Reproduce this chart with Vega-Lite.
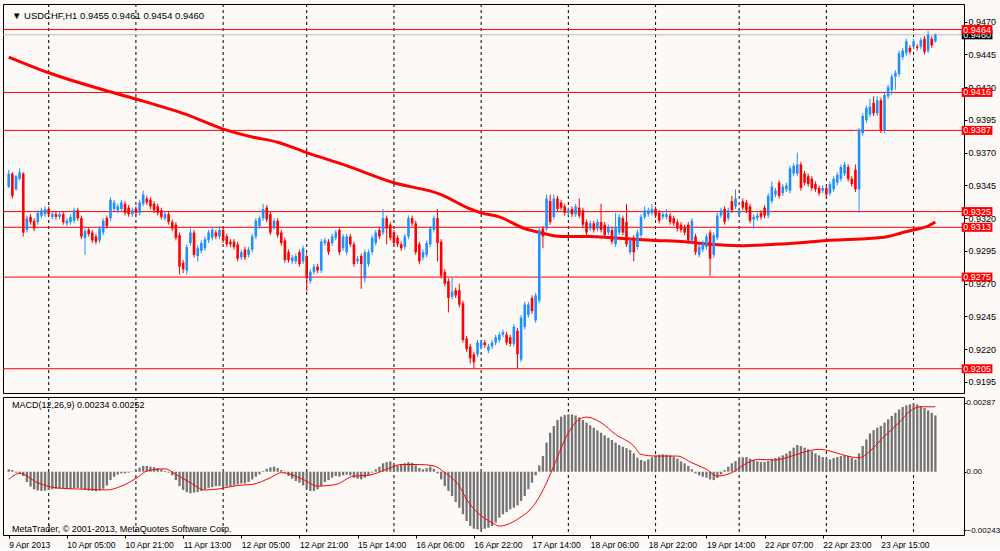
{
"$schema":"https://vega.github.io/schema/vega-lite/v6.json",
"background":"#FCF9F7",
"padding":{"left":2,"top":3,"right":0,"bottom":0},
"spacing":4,
"bounds":"flush",
"config":{
 "font":"Liberation Sans",
 "view":{"stroke":"#000000","strokeWidth":1,"fill":"#FCF9F7"},
 "axis":{"labelFont":"Liberation Sans","labelFontSize":9,"labelColor":"#000000","domain":false,"grid":false,"tickColor":"#000000","tickSize":3}
},
"datasets":{
"seps":[{"i":11},{"i":35},{"i":59},{"i":82},{"i":106},{"i":130},{"i":154},{"i":178},{"i":201},{"i":225},{"i":249}],
"levels":[{"p":0.9464},{"p":0.9416},{"p":0.9387},{"p":0.9325},{"p":0.9313},{"p":0.9275},{"p":0.9205}],
"bid":[{"p":0.946}],
"hdr":[{"t":"▼ USDCHF,H1  0.9455 0.9461 0.9454 0.9460"}],
"mhdr":[{"t":"MACD(12,26,9) 0.00234 0.00252","y":0.00277},{"t":"MetaTrader, © 2001-2013, MetaQuotes Software Corp.","y":-0.00237}],
"ma":[{"i":0,"p":0.9443},{"i":11,"p":0.9431},{"i":26,"p":0.9418},{"i":35,"p":0.9411},{"i":49,"p":0.9399},{"i":59,"p":0.9388},{"i":67,"p":0.9382},{"i":74,"p":0.9378},{"i":82,"p":0.937},{"i":92,"p":0.9361},{"i":106,"p":0.9347},{"i":119,"p":0.9338},{"i":127,"p":0.9327},{"i":130,"p":0.9324},{"i":135,"p":0.9321},{"i":142,"p":0.9312},{"i":146,"p":0.9309},{"i":152,"p":0.9306},{"i":160,"p":0.9306},{"i":166,"p":0.9305},{"i":178,"p":0.9303},{"i":186,"p":0.9302},{"i":193,"p":0.93},{"i":201,"p":0.9299},{"i":211,"p":0.93},{"i":217,"p":0.9301},{"i":225,"p":0.9303},{"i":234,"p":0.9304},{"i":242,"p":0.9306},{"i":246,"p":0.9309},{"i":249,"p":0.9311},{"i":253,"p":0.9314},{"i":255,"p":0.9317}],
"signal":[{"i":0,"s":-0.00032},{"i":3,"s":-0.00007},{"i":8,"s":-0.00046},{"i":13,"s":-0.00067},{"i":17,"s":-0.00071},{"i":22,"s":-0.00073},{"i":27,"s":-0.00076},{"i":31,"s":-0.0006},{"i":36,"s":-0.00018},{"i":38,"s":0.00003},{"i":43,"s":0.00012},{"i":46,"s":-0.00011},{"i":50,"s":-0.00046},{"i":54,"s":-0.00076},{"i":58,"s":-0.00071},{"i":63,"s":-0.00057},{"i":67,"s":-0.00053},{"i":72,"s":-0.00025},{"i":75,"s":-0.00004},{"i":81,"s":-0.00032},{"i":85,"s":-0.0006},{"i":90,"s":-0.00053},{"i":95,"s":-0.00018},{"i":99,"s":-0.00015},{"i":104,"s":0.0001},{"i":108,"s":0.0003},{"i":113,"s":0.0003},{"i":117,"s":0.00024},{"i":120,"s":-0.00004},{"i":124,"s":-0.0006},{"i":126,"s":-0.00115},{"i":129,"s":-0.0017},{"i":133,"s":-0.00212},{"i":135,"s":-0.00226},{"i":140,"s":-0.00198},{"i":145,"s":-0.00129},{"i":148,"s":-0.00046},{"i":150,"s":0.00024},{"i":154,"s":0.00162},{"i":157,"s":0.00218},{"i":159,"s":0.00227},{"i":163,"s":0.00204},{"i":167,"s":0.00155},{"i":172,"s":0.00107},{"i":174,"s":0.00072},{"i":178,"s":0.00065},{"i":184,"s":0.00065},{"i":188,"s":0.00037},{"i":192,"s":0.0001},{"i":195,"s":-0.00018},{"i":199,"s":-0.00004},{"i":203,"s":0.00035},{"i":206,"s":0.00051},{"i":211,"s":0.00049},{"i":214,"s":0.00058},{"i":219,"s":0.00082},{"i":223,"s":0.00093},{"i":226,"s":0.00086},{"i":230,"s":0.00068},{"i":234,"s":0.00058},{"i":237,"s":0.00086},{"i":241,"s":0.00148},{"i":245,"s":0.00204},{"i":248,"s":0.00252},{"i":251,"s":0.0027},{"i":255,"s":0.0027}],
"macd":[{"i":0,"m":0.0001},{"i":1,"m":0.00007},{"i":2,"m":-0.00004},{"i":3,"m":-0.00008},{"i":4,"m":-0.00018},{"i":5,"m":-0.00043},{"i":6,"m":-0.00062},{"i":7,"m":-0.00073},{"i":8,"m":-0.00078},{"i":9,"m":-0.0008},{"i":10,"m":-0.00079},{"i":11,"m":-0.00076},{"i":12,"m":-0.00073},{"i":13,"m":-0.00071},{"i":14,"m":-0.00069},{"i":15,"m":-0.00069},{"i":16,"m":-0.00071},{"i":17,"m":-0.00071},{"i":18,"m":-0.00068},{"i":19,"m":-0.00068},{"i":20,"m":-0.00071},{"i":21,"m":-0.00076},{"i":22,"m":-0.00079},{"i":23,"m":-0.0008},{"i":24,"m":-0.00082},{"i":25,"m":-0.00078},{"i":26,"m":-0.00071},{"i":27,"m":-0.00057},{"i":28,"m":-0.00035},{"i":29,"m":-0.00021},{"i":30,"m":-0.00012},{"i":31,"m":-0.00007},{"i":32,"m":-0.00007},{"i":33,"m":-0.00004},{"i":34,"m":-0.00001},{"i":35,"m":0.00007},{"i":36,"m":0.00017},{"i":37,"m":0.00024},{"i":38,"m":0.00024},{"i":39,"m":0.00021},{"i":40,"m":0.00019},{"i":41,"m":0.00015},{"i":42,"m":0.0001},{"i":43,"m":0.00003},{"i":44,"m":-0.00004},{"i":45,"m":-0.00015},{"i":46,"m":-0.00035},{"i":47,"m":-0.0006},{"i":48,"m":-0.00076},{"i":49,"m":-0.00085},{"i":50,"m":-0.0009},{"i":51,"m":-0.00087},{"i":52,"m":-0.00085},{"i":53,"m":-0.0008},{"i":54,"m":-0.00073},{"i":55,"m":-0.00067},{"i":56,"m":-0.00064},{"i":57,"m":-0.0006},{"i":58,"m":-0.0006},{"i":59,"m":-0.00064},{"i":60,"m":-0.00062},{"i":61,"m":-0.0006},{"i":62,"m":-0.00057},{"i":63,"m":-0.00053},{"i":64,"m":-0.00049},{"i":65,"m":-0.00049},{"i":66,"m":-0.00043},{"i":67,"m":-0.00032},{"i":68,"m":-0.00021},{"i":69,"m":-0.00011},{"i":70,"m":0.00003},{"i":71,"m":0.00012},{"i":72,"m":0.00018},{"i":73,"m":0.00021},{"i":74,"m":0.00015},{"i":75,"m":0.00007},{"i":76,"m":-0.00004},{"i":77,"m":-0.00018},{"i":78,"m":-0.00029},{"i":79,"m":-0.00039},{"i":80,"m":-0.00046},{"i":81,"m":-0.00057},{"i":82,"m":-0.00071},{"i":83,"m":-0.0008},{"i":84,"m":-0.0008},{"i":85,"m":-0.00073},{"i":86,"m":-0.0006},{"i":87,"m":-0.00043},{"i":88,"m":-0.00035},{"i":89,"m":-0.00025},{"i":90,"m":-0.00018},{"i":91,"m":-0.00021},{"i":92,"m":-0.00015},{"i":93,"m":-0.00012},{"i":94,"m":-0.00015},{"i":95,"m":-0.00025},{"i":96,"m":-0.00029},{"i":97,"m":-0.00032},{"i":98,"m":-0.00025},{"i":99,"m":-0.00015},{"i":100,"m":-0.00004},{"i":101,"m":0.0001},{"i":102,"m":0.00021},{"i":103,"m":0.00035},{"i":104,"m":0.0004},{"i":105,"m":0.00043},{"i":106,"m":0.00035},{"i":107,"m":0.00026},{"i":108,"m":0.00031},{"i":109,"m":0.00035},{"i":110,"m":0.0004},{"i":111,"m":0.00037},{"i":112,"m":0.00026},{"i":113,"m":0.00015},{"i":114,"m":0.0001},{"i":115,"m":0.00015},{"i":116,"m":0.00021},{"i":117,"m":0.00012},{"i":118,"m":-0.00007},{"i":119,"m":-0.00032},{"i":120,"m":-0.0006},{"i":121,"m":-0.0008},{"i":122,"m":-0.00101},{"i":123,"m":-0.00126},{"i":124,"m":-0.0015},{"i":125,"m":-0.00177},{"i":126,"m":-0.00205},{"i":127,"m":-0.00226},{"i":128,"m":-0.00237},{"i":129,"m":-0.0024},{"i":130,"m":-0.0024},{"i":131,"m":-0.00237},{"i":132,"m":-0.00233},{"i":133,"m":-0.00226},{"i":134,"m":-0.00212},{"i":135,"m":-0.00191},{"i":136,"m":-0.00177},{"i":137,"m":-0.00168},{"i":138,"m":-0.00157},{"i":139,"m":-0.0015},{"i":140,"m":-0.0014},{"i":141,"m":-0.00122},{"i":142,"m":-0.00101},{"i":143,"m":-0.00073},{"i":144,"m":-0.00046},{"i":145,"m":-0.00015},{"i":146,"m":0.00026},{"i":147,"m":0.00065},{"i":148,"m":0.00121},{"i":149,"m":0.00162},{"i":150,"m":0.0019},{"i":151,"m":0.00215},{"i":152,"m":0.00229},{"i":153,"m":0.00236},{"i":154,"m":0.00238},{"i":155,"m":0.00238},{"i":156,"m":0.00234},{"i":157,"m":0.00226},{"i":158,"m":0.00215},{"i":159,"m":0.00204},{"i":160,"m":0.00193},{"i":161,"m":0.00183},{"i":162,"m":0.00172},{"i":163,"m":0.00162},{"i":164,"m":0.00151},{"i":165,"m":0.00141},{"i":166,"m":0.00132},{"i":167,"m":0.00121},{"i":168,"m":0.00111},{"i":169,"m":0.00104},{"i":170,"m":0.00098},{"i":171,"m":0.0009},{"i":172,"m":0.00076},{"i":173,"m":0.00058},{"i":174,"m":0.00049},{"i":175,"m":0.00044},{"i":176,"m":0.00051},{"i":177,"m":0.0006},{"i":178,"m":0.00068},{"i":179,"m":0.00071},{"i":180,"m":0.00072},{"i":181,"m":0.00071},{"i":182,"m":0.00068},{"i":183,"m":0.00062},{"i":184,"m":0.00054},{"i":185,"m":0.00043},{"i":186,"m":0.00035},{"i":187,"m":0.00024},{"i":188,"m":0.0001},{"i":189,"m":-0.00007},{"i":190,"m":-0.00015},{"i":191,"m":-0.00021},{"i":192,"m":-0.00025},{"i":193,"m":-0.00032},{"i":194,"m":-0.00035},{"i":195,"m":-0.00026},{"i":196,"m":-0.00011},{"i":197,"m":0.00007},{"i":198,"m":0.00021},{"i":199,"m":0.00035},{"i":200,"m":0.00044},{"i":201,"m":0.00054},{"i":202,"m":0.0006},{"i":203,"m":0.00061},{"i":204,"m":0.00054},{"i":205,"m":0.00049},{"i":206,"m":0.00043},{"i":207,"m":0.0004},{"i":208,"m":0.0004},{"i":209,"m":0.00044},{"i":210,"m":0.00051},{"i":211,"m":0.00057},{"i":212,"m":0.00062},{"i":213,"m":0.00068},{"i":214,"m":0.00076},{"i":215,"m":0.00086},{"i":216,"m":0.001},{"i":217,"m":0.00111},{"i":218,"m":0.00107},{"i":219,"m":0.001},{"i":220,"m":0.00093},{"i":221,"m":0.00085},{"i":222,"m":0.00076},{"i":223,"m":0.00068},{"i":224,"m":0.00061},{"i":225,"m":0.00055},{"i":226,"m":0.00051},{"i":227,"m":0.00057},{"i":228,"m":0.00061},{"i":229,"m":0.00065},{"i":230,"m":0.00068},{"i":231,"m":0.00065},{"i":232,"m":0.00058},{"i":233,"m":0.00051},{"i":234,"m":0.00076},{"i":235,"m":0.00107},{"i":236,"m":0.00134},{"i":237,"m":0.00159},{"i":238,"m":0.00173},{"i":239,"m":0.00183},{"i":240,"m":0.0019},{"i":241,"m":0.00204},{"i":242,"m":0.00218},{"i":243,"m":0.00232},{"i":244,"m":0.00245},{"i":245,"m":0.00259},{"i":246,"m":0.00269},{"i":247,"m":0.00276},{"i":248,"m":0.0028},{"i":249,"m":0.00283},{"i":250,"m":0.0028},{"i":251,"m":0.00273},{"i":252,"m":0.00265},{"i":253,"m":0.00255},{"i":254,"m":0.00245},{"i":255,"m":0.00234}],
"candles":[
{"i":0,"o":0.9344,"h":0.9357,"l":0.9343,"c":0.9354},{"i":1,"o":0.9354,"h":0.9355,"l":0.9335,"c":0.9337},{"i":2,"o":0.9342,"h":0.9353,"l":0.9341,"c":0.9352},{"i":3,"o":0.935,"h":0.9358,"l":0.9349,"c":0.9355},{"i":4,"o":0.9354,"h":0.9355,"l":0.9306,"c":0.9309},{"i":5,"o":0.9311,"h":0.9322,"l":0.9309,"c":0.932},{"i":6,"o":0.9321,"h":0.9323,"l":0.9315,"c":0.9317},{"i":7,"o":0.9318,"h":0.932,"l":0.931,"c":0.9312},{"i":8,"o":0.9317,"h":0.9326,"l":0.9315,"c":0.9324},{"i":9,"o":0.9322,"h":0.9328,"l":0.932,"c":0.9326},
{"i":10,"o":0.9323,"h":0.9329,"l":0.9321,"c":0.9327},{"i":11,"o":0.9327,"h":0.9329,"l":0.9321,"c":0.9323},{"i":12,"o":0.9321,"h":0.9325,"l":0.9319,"c":0.9323},{"i":13,"o":0.9323,"h":0.9325,"l":0.9319,"c":0.9321},{"i":14,"o":0.9321,"h":0.9325,"l":0.9319,"c":0.9323},{"i":15,"o":0.9323,"h":0.9325,"l":0.9315,"c":0.9317},{"i":16,"o":0.9316,"h":0.932,"l":0.9314,"c":0.9318},{"i":17,"o":0.9317,"h":0.9323,"l":0.9315,"c":0.9321},{"i":18,"o":0.9318,"h":0.9328,"l":0.9316,"c":0.9326},{"i":19,"o":0.9326,"h":0.9328,"l":0.9318,"c":0.932},
{"i":20,"o":0.932,"h":0.9322,"l":0.9304,"c":0.9306},{"i":21,"o":0.9305,"h":0.9312,"l":0.9292,"c":0.931},{"i":22,"o":0.9311,"h":0.9313,"l":0.9306,"c":0.9308},{"i":23,"o":0.9309,"h":0.9311,"l":0.9301,"c":0.9303},{"i":24,"o":0.9306,"h":0.9308,"l":0.93,"c":0.9302},{"i":25,"o":0.9303,"h":0.9314,"l":0.9301,"c":0.9312},{"i":26,"o":0.9309,"h":0.932,"l":0.9307,"c":0.9318},{"i":27,"o":0.932,"h":0.9322,"l":0.9312,"c":0.9314},{"i":28,"o":0.932,"h":0.9336,"l":0.9318,"c":0.9334},{"i":29,"o":0.9327,"h":0.9334,"l":0.9325,"c":0.9332},
{"i":30,"o":0.9326,"h":0.9331,"l":0.9324,"c":0.9329},{"i":31,"o":0.9327,"h":0.9334,"l":0.9325,"c":0.9332},{"i":32,"o":0.9331,"h":0.9333,"l":0.9322,"c":0.9324},{"i":33,"o":0.9328,"h":0.933,"l":0.9321,"c":0.9323},{"i":34,"o":0.9323,"h":0.9328,"l":0.9321,"c":0.9326},{"i":35,"o":0.9327,"h":0.9329,"l":0.9322,"c":0.9324},{"i":36,"o":0.9324,"h":0.9334,"l":0.9322,"c":0.9332},{"i":37,"o":0.9331,"h":0.9341,"l":0.9329,"c":0.9338},{"i":38,"o":0.9335,"h":0.9337,"l":0.933,"c":0.9332},{"i":39,"o":0.9334,"h":0.9336,"l":0.9327,"c":0.9329},
{"i":40,"o":0.9331,"h":0.9333,"l":0.9324,"c":0.9326},{"i":41,"o":0.9329,"h":0.9331,"l":0.9322,"c":0.9324},{"i":42,"o":0.9326,"h":0.9328,"l":0.9319,"c":0.9321},{"i":43,"o":0.932,"h":0.9325,"l":0.9318,"c":0.9323},{"i":44,"o":0.9323,"h":0.9325,"l":0.9315,"c":0.9317},{"i":45,"o":0.9317,"h":0.9319,"l":0.931,"c":0.9312},{"i":46,"o":0.9315,"h":0.9317,"l":0.9303,"c":0.9305},{"i":47,"o":0.9307,"h":0.9309,"l":0.9277,"c":0.9283},{"i":48,"o":0.9286,"h":0.9288,"l":0.9278,"c":0.9281},{"i":49,"o":0.928,"h":0.93,"l":0.9277,"c":0.9298},
{"i":50,"o":0.9301,"h":0.9312,"l":0.9299,"c":0.9309},{"i":51,"o":0.9309,"h":0.9311,"l":0.929,"c":0.9292},{"i":52,"o":0.9291,"h":0.9299,"l":0.9287,"c":0.9297},{"i":53,"o":0.9295,"h":0.9303,"l":0.9293,"c":0.9301},{"i":54,"o":0.9297,"h":0.9306,"l":0.9295,"c":0.9304},{"i":55,"o":0.9303,"h":0.9311,"l":0.9301,"c":0.9309},{"i":56,"o":0.9305,"h":0.9313,"l":0.9303,"c":0.9311},{"i":57,"o":0.9309,"h":0.9311,"l":0.9304,"c":0.9306},{"i":58,"o":0.9306,"h":0.9314,"l":0.9304,"c":0.9311},{"i":59,"o":0.9311,"h":0.9313,"l":0.9301,"c":0.9303},
{"i":60,"o":0.9306,"h":0.9308,"l":0.9298,"c":0.93},{"i":61,"o":0.9302,"h":0.9304,"l":0.9298,"c":0.93},{"i":62,"o":0.9302,"h":0.9304,"l":0.9296,"c":0.9298},{"i":63,"o":0.93,"h":0.9302,"l":0.9287,"c":0.9289},{"i":64,"o":0.929,"h":0.9296,"l":0.9288,"c":0.9294},{"i":65,"o":0.9296,"h":0.9298,"l":0.9288,"c":0.929},{"i":66,"o":0.9292,"h":0.9298,"l":0.929,"c":0.9296},{"i":67,"o":0.9296,"h":0.9308,"l":0.9294,"c":0.9306},{"i":68,"o":0.9306,"h":0.932,"l":0.9304,"c":0.9318},{"i":69,"o":0.9314,"h":0.9322,"l":0.9312,"c":0.932},
{"i":70,"o":0.932,"h":0.9331,"l":0.9318,"c":0.9327},{"i":71,"o":0.9328,"h":0.933,"l":0.9317,"c":0.9319},{"i":72,"o":0.9323,"h":0.9325,"l":0.9307,"c":0.9309},{"i":73,"o":0.9313,"h":0.932,"l":0.9311,"c":0.9318},{"i":74,"o":0.9318,"h":0.932,"l":0.9305,"c":0.9307},{"i":75,"o":0.9309,"h":0.9311,"l":0.9299,"c":0.9301},{"i":76,"o":0.9303,"h":0.9305,"l":0.9286,"c":0.9288},{"i":77,"o":0.9294,"h":0.9296,"l":0.9286,"c":0.9288},{"i":78,"o":0.9287,"h":0.9292,"l":0.9285,"c":0.929},{"i":79,"o":0.9287,"h":0.9293,"l":0.9285,"c":0.9291},
{"i":80,"o":0.9294,"h":0.9296,"l":0.9283,"c":0.9285},{"i":81,"o":0.9287,"h":0.9299,"l":0.9285,"c":0.9297},{"i":82,"o":0.9291,"h":0.9293,"l":0.9264,"c":0.9274},{"i":83,"o":0.9272,"h":0.9281,"l":0.927,"c":0.9279},{"i":84,"o":0.9279,"h":0.9285,"l":0.9277,"c":0.9283},{"i":85,"o":0.9283,"h":0.9285,"l":0.9278,"c":0.928},{"i":86,"o":0.928,"h":0.9304,"l":0.9278,"c":0.9302},{"i":87,"o":0.9301,"h":0.9305,"l":0.9299,"c":0.9303},{"i":88,"o":0.9302,"h":0.9304,"l":0.9292,"c":0.9294},{"i":89,"o":0.9301,"h":0.9308,"l":0.9299,"c":0.9306},
{"i":90,"o":0.9305,"h":0.9311,"l":0.9303,"c":0.9309},{"i":91,"o":0.9311,"h":0.9313,"l":0.9292,"c":0.9294},{"i":92,"o":0.9297,"h":0.9308,"l":0.9295,"c":0.9306},{"i":93,"o":0.9294,"h":0.9308,"l":0.9292,"c":0.9306},{"i":94,"o":0.9306,"h":0.9308,"l":0.9298,"c":0.93},{"i":95,"o":0.93,"h":0.9302,"l":0.9283,"c":0.9285},{"i":96,"o":0.9287,"h":0.9291,"l":0.9285,"c":0.9289},{"i":97,"o":0.9291,"h":0.9293,"l":0.9266,"c":0.9285},{"i":98,"o":0.9274,"h":0.9296,"l":0.9271,"c":0.9294},{"i":99,"o":0.9285,"h":0.9296,"l":0.9283,"c":0.9294},
{"i":100,"o":0.9294,"h":0.9307,"l":0.9292,"c":0.9305},{"i":101,"o":0.9301,"h":0.9311,"l":0.9299,"c":0.9309},{"i":102,"o":0.9311,"h":0.9313,"l":0.9304,"c":0.9306},{"i":103,"o":0.9309,"h":0.9327,"l":0.9307,"c":0.932},{"i":104,"o":0.932,"h":0.9322,"l":0.93,"c":0.9312},{"i":105,"o":0.9315,"h":0.9317,"l":0.9303,"c":0.9305},{"i":106,"o":0.9309,"h":0.9311,"l":0.9299,"c":0.9301},{"i":107,"o":0.9305,"h":0.9307,"l":0.9298,"c":0.93},{"i":108,"o":0.93,"h":0.9302,"l":0.9295,"c":0.9297},{"i":109,"o":0.9298,"h":0.9308,"l":0.9296,"c":0.9306},
{"i":110,"o":0.9306,"h":0.9322,"l":0.9304,"c":0.932},{"i":111,"o":0.932,"h":0.9322,"l":0.9314,"c":0.9316},{"i":112,"o":0.9316,"h":0.9318,"l":0.9292,"c":0.9294},{"i":113,"o":0.93,"h":0.9302,"l":0.9285,"c":0.9287},{"i":114,"o":0.929,"h":0.9296,"l":0.9288,"c":0.9294},{"i":115,"o":0.9292,"h":0.9303,"l":0.929,"c":0.9301},{"i":116,"o":0.93,"h":0.9314,"l":0.9298,"c":0.9312},{"i":117,"o":0.9311,"h":0.9322,"l":0.9309,"c":0.932},{"i":118,"o":0.932,"h":0.9327,"l":0.9287,"c":0.9301},{"i":119,"o":0.9302,"h":0.9304,"l":0.9274,"c":0.9276},
{"i":120,"o":0.9279,"h":0.9281,"l":0.9268,"c":0.927},{"i":121,"o":0.9272,"h":0.9274,"l":0.9248,"c":0.9259},{"i":122,"o":0.926,"h":0.9275,"l":0.9258,"c":0.9264},{"i":123,"o":0.9265,"h":0.9267,"l":0.9259,"c":0.9261},{"i":124,"o":0.9265,"h":0.927,"l":0.9252,"c":0.9254},{"i":125,"o":0.9255,"h":0.9257,"l":0.9225,"c":0.9227},{"i":126,"o":0.9228,"h":0.923,"l":0.9218,"c":0.922},{"i":127,"o":0.9222,"h":0.9224,"l":0.9209,"c":0.9213},{"i":128,"o":0.9216,"h":0.9218,"l":0.9205,"c":0.921},{"i":129,"o":0.9216,"h":0.9227,"l":0.9214,"c":0.9225},
{"i":130,"o":0.9222,"h":0.9227,"l":0.922,"c":0.9225},{"i":131,"o":0.9225,"h":0.9227,"l":0.9221,"c":0.9223},{"i":132,"o":0.9219,"h":0.9224,"l":0.9217,"c":0.9222},{"i":133,"o":0.9222,"h":0.9227,"l":0.922,"c":0.9225},{"i":134,"o":0.9225,"h":0.9231,"l":0.9223,"c":0.9229},{"i":135,"o":0.9227,"h":0.9233,"l":0.9225,"c":0.9231},{"i":136,"o":0.9231,"h":0.9235,"l":0.9229,"c":0.9233},{"i":137,"o":0.9231,"h":0.9233,"l":0.9223,"c":0.9225},{"i":138,"o":0.9229,"h":0.9231,"l":0.9222,"c":0.9224},{"i":139,"o":0.9224,"h":0.9239,"l":0.9222,"c":0.9237},
{"i":140,"o":0.9234,"h":0.9236,"l":0.9205,"c":0.9216},{"i":141,"o":0.9212,"h":0.9246,"l":0.921,"c":0.9244},{"i":142,"o":0.9237,"h":0.9256,"l":0.9235,"c":0.9254},{"i":143,"o":0.9246,"h":0.9256,"l":0.9244,"c":0.9254},{"i":144,"o":0.9259,"h":0.9261,"l":0.9247,"c":0.9249},{"i":145,"o":0.9242,"h":0.9263,"l":0.924,"c":0.9261},{"i":146,"o":0.9257,"h":0.9313,"l":0.9255,"c":0.9311},{"i":147,"o":0.9312,"h":0.9314,"l":0.9297,"c":0.9306},{"i":148,"o":0.9312,"h":0.9338,"l":0.931,"c":0.9335},{"i":149,"o":0.9333,"h":0.9338,"l":0.9315,"c":0.9317},
{"i":150,"o":0.9321,"h":0.9338,"l":0.9319,"c":0.9335},{"i":151,"o":0.9335,"h":0.9337,"l":0.9325,"c":0.9327},{"i":152,"o":0.9332,"h":0.9334,"l":0.9326,"c":0.9328},{"i":153,"o":0.9329,"h":0.9331,"l":0.9322,"c":0.9324},{"i":154,"o":0.9324,"h":0.9328,"l":0.9322,"c":0.9326},{"i":155,"o":0.9327,"h":0.9329,"l":0.9321,"c":0.9323},{"i":156,"o":0.9323,"h":0.9331,"l":0.9321,"c":0.9329},{"i":157,"o":0.9328,"h":0.9335,"l":0.932,"c":0.9322},{"i":158,"o":0.9326,"h":0.9328,"l":0.9313,"c":0.9315},{"i":159,"o":0.9317,"h":0.9319,"l":0.9307,"c":0.9309},
{"i":160,"o":0.9312,"h":0.9318,"l":0.931,"c":0.9316},{"i":161,"o":0.9316,"h":0.9318,"l":0.9309,"c":0.9311},{"i":162,"o":0.9312,"h":0.9319,"l":0.931,"c":0.9317},{"i":163,"o":0.9317,"h":0.9331,"l":0.9309,"c":0.9311},{"i":164,"o":0.9315,"h":0.9317,"l":0.9305,"c":0.9307},{"i":165,"o":0.9309,"h":0.9315,"l":0.9307,"c":0.9313},{"i":166,"o":0.9311,"h":0.9313,"l":0.93,"c":0.9302},{"i":167,"o":0.93,"h":0.9324,"l":0.9298,"c":0.9313},{"i":168,"o":0.9309,"h":0.9323,"l":0.9307,"c":0.9321},{"i":169,"o":0.932,"h":0.9322,"l":0.9307,"c":0.9309},
{"i":170,"o":0.9317,"h":0.9331,"l":0.9298,"c":0.93},{"i":171,"o":0.9294,"h":0.9305,"l":0.9292,"c":0.9303},{"i":172,"o":0.9305,"h":0.9307,"l":0.9287,"c":0.9294},{"i":173,"o":0.9298,"h":0.9311,"l":0.9296,"c":0.9309},{"i":174,"o":0.9307,"h":0.9323,"l":0.9305,"c":0.9321},{"i":175,"o":0.9321,"h":0.9329,"l":0.9319,"c":0.9326},{"i":176,"o":0.9323,"h":0.9328,"l":0.9321,"c":0.9326},{"i":177,"o":0.9324,"h":0.9331,"l":0.9322,"c":0.9327},{"i":178,"o":0.9327,"h":0.9329,"l":0.932,"c":0.9322},{"i":179,"o":0.9324,"h":0.9326,"l":0.9316,"c":0.9318},
{"i":180,"o":0.9321,"h":0.9325,"l":0.9319,"c":0.9323},{"i":181,"o":0.9321,"h":0.9327,"l":0.9319,"c":0.9323},{"i":182,"o":0.9322,"h":0.9324,"l":0.9315,"c":0.9317},{"i":183,"o":0.932,"h":0.9322,"l":0.9314,"c":0.9316},{"i":184,"o":0.9317,"h":0.9319,"l":0.931,"c":0.9312},{"i":185,"o":0.9315,"h":0.9317,"l":0.9309,"c":0.9311},{"i":186,"o":0.9313,"h":0.9315,"l":0.9307,"c":0.9309},{"i":187,"o":0.9315,"h":0.9317,"l":0.9301,"c":0.9303},{"i":188,"o":0.9303,"h":0.932,"l":0.9301,"c":0.9318},{"i":189,"o":0.9306,"h":0.9308,"l":0.9292,"c":0.9294},
{"i":190,"o":0.9292,"h":0.93,"l":0.929,"c":0.9298},{"i":191,"o":0.9296,"h":0.9303,"l":0.9294,"c":0.9301},{"i":192,"o":0.9298,"h":0.9308,"l":0.9296,"c":0.9306},{"i":193,"o":0.9309,"h":0.9311,"l":0.9276,"c":0.9289},{"i":194,"o":0.9292,"h":0.9309,"l":0.929,"c":0.9307},{"i":195,"o":0.9305,"h":0.9324,"l":0.9303,"c":0.9322},{"i":196,"o":0.9322,"h":0.9328,"l":0.932,"c":0.9326},{"i":197,"o":0.9327,"h":0.9329,"l":0.9315,"c":0.9317},{"i":198,"o":0.932,"h":0.9328,"l":0.9318,"c":0.9326},{"i":199,"o":0.9333,"h":0.9337,"l":0.9324,"c":0.9326},
{"i":200,"o":0.9329,"h":0.9342,"l":0.9327,"c":0.9335},{"i":201,"o":0.9323,"h":0.9328,"l":0.9321,"c":0.9326},{"i":202,"o":0.9333,"h":0.9335,"l":0.9326,"c":0.9328},{"i":203,"o":0.9332,"h":0.9334,"l":0.9324,"c":0.9326},{"i":204,"o":0.9329,"h":0.9331,"l":0.9316,"c":0.9318},{"i":205,"o":0.9319,"h":0.9323,"l":0.9312,"c":0.9321},{"i":206,"o":0.932,"h":0.9324,"l":0.9318,"c":0.9322},{"i":207,"o":0.9324,"h":0.9326,"l":0.9319,"c":0.9321},{"i":208,"o":0.9328,"h":0.933,"l":0.932,"c":0.9322},{"i":209,"o":0.9322,"h":0.9339,"l":0.932,"c":0.9337},
{"i":210,"o":0.9333,"h":0.9348,"l":0.9331,"c":0.9344},{"i":211,"o":0.9338,"h":0.9343,"l":0.9336,"c":0.9341},{"i":212,"o":0.9347,"h":0.9349,"l":0.9335,"c":0.9337},{"i":213,"o":0.9339,"h":0.9346,"l":0.9337,"c":0.9344},{"i":214,"o":0.9342,"h":0.9347,"l":0.934,"c":0.9345},{"i":215,"o":0.9341,"h":0.936,"l":0.9339,"c":0.9358},{"i":216,"o":0.9354,"h":0.9362,"l":0.9352,"c":0.936},{"i":217,"o":0.9354,"h":0.937,"l":0.9352,"c":0.9361},{"i":218,"o":0.9361,"h":0.9363,"l":0.9341,"c":0.9343},{"i":219,"o":0.9354,"h":0.9356,"l":0.9345,"c":0.9347},
{"i":220,"o":0.9352,"h":0.9354,"l":0.9344,"c":0.9346},{"i":221,"o":0.935,"h":0.9352,"l":0.9341,"c":0.9343},{"i":222,"o":0.9346,"h":0.9348,"l":0.934,"c":0.9342},{"i":223,"o":0.9343,"h":0.9345,"l":0.9337,"c":0.9339},{"i":224,"o":0.9341,"h":0.9345,"l":0.9339,"c":0.9343},{"i":225,"o":0.9343,"h":0.9345,"l":0.9336,"c":0.9338},{"i":226,"o":0.9339,"h":0.9348,"l":0.9337,"c":0.9346},{"i":227,"o":0.9342,"h":0.9352,"l":0.934,"c":0.935},{"i":228,"o":0.9347,"h":0.9355,"l":0.9345,"c":0.9353},{"i":229,"o":0.935,"h":0.9361,"l":0.9348,"c":0.9359},
{"i":230,"o":0.9354,"h":0.9363,"l":0.9352,"c":0.9361},{"i":231,"o":0.9359,"h":0.9361,"l":0.9348,"c":0.935},{"i":232,"o":0.935,"h":0.9352,"l":0.9344,"c":0.9346},{"i":233,"o":0.9357,"h":0.9361,"l":0.934,"c":0.9342},{"i":234,"o":0.9342,"h":0.9389,"l":0.9324,"c":0.9387},{"i":235,"o":0.9385,"h":0.94,"l":0.9383,"c":0.9398},{"i":236,"o":0.9395,"h":0.9406,"l":0.9393,"c":0.9404},{"i":237,"o":0.9399,"h":0.9411,"l":0.9397,"c":0.9405},{"i":238,"o":0.9408,"h":0.9413,"l":0.9398,"c":0.94},{"i":239,"o":0.94,"h":0.9413,"l":0.9398,"c":0.941},
{"i":240,"o":0.941,"h":0.9412,"l":0.9385,"c":0.9387},{"i":241,"o":0.9387,"h":0.9416,"l":0.9385,"c":0.9414},{"i":242,"o":0.9413,"h":0.9422,"l":0.9411,"c":0.942},{"i":243,"o":0.9418,"h":0.943,"l":0.9414,"c":0.9428},{"i":244,"o":0.9428,"h":0.9433,"l":0.9418,"c":0.9431},{"i":245,"o":0.943,"h":0.9448,"l":0.9428,"c":0.9446},{"i":246,"o":0.9443,"h":0.945,"l":0.9441,"c":0.9448},{"i":247,"o":0.9446,"h":0.9457,"l":0.9444,"c":0.9455},{"i":248,"o":0.945,"h":0.9452,"l":0.9445,"c":0.9447},{"i":249,"o":0.9451,"h":0.9457,"l":0.9449,"c":0.9455},
{"i":250,"o":0.9451,"h":0.9453,"l":0.9448,"c":0.945},{"i":251,"o":0.9451,"h":0.9458,"l":0.9449,"c":0.9456},{"i":252,"o":0.9457,"h":0.9459,"l":0.9445,"c":0.9447},{"i":253,"o":0.9448,"h":0.9463,"l":0.9446,"c":0.946},{"i":254,"o":0.9457,"h":0.9459,"l":0.945,"c":0.9452},{"i":255,"o":0.9455,"h":0.9461,"l":0.9454,"c":0.946}
]
},
"vconcat":[
{
 "width":961,"height":389,
 "layer":[
  {"data":{"name":"seps"},"mark":{"type":"rule","color":"#000000","strokeDash":[3,3],"strokeWidth":1},
   "encoding":{"x":{"field":"i","type":"quantitative","scale":{"domain":[-0.2,261.5],"nice":false,"zero":false},"axis":null}}},
  {"data":{"name":"levels"},"mark":{"type":"rule","color":"#FF0000","strokeWidth":1},
   "encoding":{"y":{"field":"p","type":"quantitative","scale":{"domain":[0.91903,0.94797],"nice":false,"zero":false},
     "axis":{"orient":"right","values":[0.947,0.9445,0.942,0.9395,0.937,0.9345,0.932,0.9295,0.927,0.9245,0.922,0.9195],"format":".4f","title":null,"labelPadding":1,"labelOverlap":false}}}},
  {"data":{"name":"bid"},"mark":{"type":"rule","color":"#BBBBBB","strokeWidth":1},
   "encoding":{"y":{"field":"p","type":"quantitative","scale":{"domain":[0.91903,0.94797],"nice":false,"zero":false},
     "axis":{"orient":"right","values":[0.947,0.9445,0.942,0.9395,0.937,0.9345,0.932,0.9295,0.927,0.9245,0.922,0.9195],"format":".4f","title":null,"labelPadding":1,"labelOverlap":false}}}},
  {"data":{"name":"ma"},"mark":{"type":"line","color":"#FF0000","strokeWidth":3,"interpolate":"monotone"},
   "encoding":{"x":{"field":"i","type":"quantitative","scale":{"domain":[-0.2,261.5],"nice":false,"zero":false},"axis":null},
    "y":{"field":"p","type":"quantitative","scale":{"domain":[0.91903,0.94797],"nice":false,"zero":false},
     "axis":{"orient":"right","values":[0.947,0.9445,0.942,0.9395,0.937,0.9345,0.932,0.9295,0.927,0.9245,0.922,0.9195],"format":".4f","title":null,"labelPadding":1,"labelOverlap":false}}}},
  {"data":{"name":"candles"},"mark":{"type":"rule","strokeWidth":1},
   "encoding":{"x":{"field":"i","type":"quantitative","scale":{"domain":[-0.2,261.5],"nice":false,"zero":false},"axis":null},
    "y":{"field":"l","type":"quantitative","scale":{"domain":[0.91903,0.94797],"nice":false,"zero":false},
     "axis":{"orient":"right","values":[0.947,0.9445,0.942,0.9395,0.937,0.9345,0.932,0.9295,0.927,0.9245,0.922,0.9195],"format":".4f","title":null,"labelPadding":1,"labelOverlap":false}},
    "y2":{"field":"h"},
    "color":{"condition":{"test":"datum.c >= datum.o","value":"#1E90FF"},"value":"#FF0000"}}},
  {"data":{"name":"candles"},"mark":{"type":"bar","size":2.6},
   "encoding":{"x":{"field":"i","type":"quantitative","scale":{"domain":[-0.2,261.5],"nice":false,"zero":false},"axis":null},
    "y":{"field":"o","type":"quantitative","scale":{"domain":[0.91903,0.94797],"nice":false,"zero":false},
     "axis":{"orient":"right","values":[0.947,0.9445,0.942,0.9395,0.937,0.9345,0.932,0.9295,0.927,0.9245,0.922,0.9195],"format":".4f","title":null,"labelPadding":1,"labelOverlap":false}},
    "y2":{"field":"c"},
    "color":{"condition":{"test":"datum.c >= datum.o","value":"#1E90FF"},"value":"#FF0000"}}},
  {"data":{"name":"bid"},"mark":{"type":"bar","orient":"horizontal","size":9,"color":"#000000"},
   "encoding":{"x":{"datum":262.25,"type":"quantitative","scale":{"domain":[-0.2,261.5],"nice":false,"zero":false},"axis":null},
    "x2":{"datum":270.7},
    "y":{"field":"p","type":"quantitative","scale":{"domain":[0.91903,0.94797],"nice":false,"zero":false},
     "axis":{"orient":"right","values":[0.947,0.9445,0.942,0.9395,0.937,0.9345,0.932,0.9295,0.927,0.9245,0.922,0.9195],"format":".4f","title":null,"labelPadding":1,"labelOverlap":false}}}},
  {"data":{"name":"bid"},"mark":{"type":"text","align":"left","baseline":"middle","fontSize":9,"color":"#FFFFFF"},
   "encoding":{"x":{"datum":262.7,"type":"quantitative","scale":{"domain":[-0.2,261.5],"nice":false,"zero":false},"axis":null},
    "y":{"field":"p","type":"quantitative","scale":{"domain":[0.91903,0.94797],"nice":false,"zero":false},
     "axis":{"orient":"right","values":[0.947,0.9445,0.942,0.9395,0.937,0.9345,0.932,0.9295,0.927,0.9245,0.922,0.9195],"format":".4f","title":null,"labelPadding":1,"labelOverlap":false}},
    "text":{"field":"p","type":"quantitative","format":".4f"}}},
  {"data":{"name":"levels"},"mark":{"type":"bar","orient":"horizontal","size":9,"color":"#FF0000"},
   "encoding":{"x":{"datum":262.25,"type":"quantitative","scale":{"domain":[-0.2,261.5],"nice":false,"zero":false},"axis":null},
    "x2":{"datum":270.7},
    "y":{"field":"p","type":"quantitative","scale":{"domain":[0.91903,0.94797],"nice":false,"zero":false},
     "axis":{"orient":"right","values":[0.947,0.9445,0.942,0.9395,0.937,0.9345,0.932,0.9295,0.927,0.9245,0.922,0.9195],"format":".4f","title":null,"labelPadding":1,"labelOverlap":false}}}},
  {"data":{"name":"levels"},"mark":{"type":"text","align":"left","baseline":"middle","fontSize":9,"color":"#FFFFFF"},
   "encoding":{"x":{"datum":262.7,"type":"quantitative","scale":{"domain":[-0.2,261.5],"nice":false,"zero":false},"axis":null},
    "y":{"field":"p","type":"quantitative","scale":{"domain":[0.91903,0.94797],"nice":false,"zero":false},
     "axis":{"orient":"right","values":[0.947,0.9445,0.942,0.9395,0.937,0.9345,0.932,0.9295,0.927,0.9245,0.922,0.9195],"format":".4f","title":null,"labelPadding":1,"labelOverlap":false}},
    "text":{"field":"p","type":"quantitative","format":".4f"}}},
  {"data":{"name":"hdr"},"mark":{"type":"text","align":"left","baseline":"middle","fontSize":9.5,"color":"#000000"},
   "encoding":{"x":{"datum":0.9,"type":"quantitative","scale":{"domain":[-0.2,261.5],"nice":false,"zero":false},"axis":null},
    "y":{"datum":0.94747,"type":"quantitative","scale":{"domain":[0.91903,0.94797],"nice":false,"zero":false},
     "axis":{"orient":"right","values":[0.947,0.9445,0.942,0.9395,0.937,0.9345,0.932,0.9295,0.927,0.9245,0.922,0.9195],"format":".4f","title":null,"labelPadding":1,"labelOverlap":false}},
    "text":{"field":"t"}}}
 ]
},
{
 "width":961,"height":138,
 "layer":[
  {"data":{"name":"seps"},"mark":{"type":"rule","color":"#000000","strokeDash":[3,3],"strokeWidth":1},
   "encoding":{"x":{"field":"i","type":"quantitative","scale":{"domain":[-0.2,261.5],"nice":false,"zero":false},
     "axis":{"orient":"bottom","values":[0,16,32,48,64,80,96,112,128,144,160,176,192,208,224,240],"labelExpr":"['9 Apr 2013','10 Apr 05:00','10 Apr 21:00','11 Apr 13:00','12 Apr 05:00','12 Apr 21:00','15 Apr 14:00','16 Apr 06:00','16 Apr 22:00','17 Apr 14:00','18 Apr 06:00','18 Apr 22:00','19 Apr 14:00','22 Apr 07:00','22 Apr 23:00','23 Apr 15:00'][round(datum.value/16)]","labelAlign":"left","labelBaseline":"top","labelPadding":2,"labelFontSize":8.5,"labelFlush":false,"labelOverlap":false,"title":null}}}},
  {"data":{"name":"macd"},"mark":{"type":"bar","size":2.3,"color":"#747474"},
   "encoding":{"x":{"field":"i","type":"quantitative","scale":{"domain":[-0.2,261.5],"nice":false,"zero":false},
     "axis":{"orient":"bottom","values":[0,16,32,48,64,80,96,112,128,144,160,176,192,208,224,240],"labelExpr":"['9 Apr 2013','10 Apr 05:00','10 Apr 21:00','11 Apr 13:00','12 Apr 05:00','12 Apr 21:00','15 Apr 14:00','16 Apr 06:00','16 Apr 22:00','17 Apr 14:00','18 Apr 06:00','18 Apr 22:00','19 Apr 14:00','22 Apr 07:00','22 Apr 23:00','23 Apr 15:00'][round(datum.value/16)]","labelAlign":"left","labelBaseline":"top","labelPadding":2,"labelFontSize":8.5,"labelFlush":false,"labelOverlap":false,"title":null}},
    "y":{"field":"m","type":"quantitative","scale":{"domain":[-0.002633,0.003107],"nice":false,"zero":false},
     "axis":{"orient":"right","values":[0.00287,0,-0.00243],"labelExpr":"datum.value == 0 ? '0.00' : format(datum.value, '.5f')","title":null,"labelPadding":0,"tickSize":2,"labelFontSize":8,"labelOverlap":false}},
    "y2":{"datum":0}}},
  {"data":{"name":"signal"},"mark":{"type":"line","color":"#FF0000","strokeWidth":1,"interpolate":"monotone"},
   "encoding":{"x":{"field":"i","type":"quantitative","scale":{"domain":[-0.2,261.5],"nice":false,"zero":false},
     "axis":{"orient":"bottom","values":[0,16,32,48,64,80,96,112,128,144,160,176,192,208,224,240],"labelExpr":"['9 Apr 2013','10 Apr 05:00','10 Apr 21:00','11 Apr 13:00','12 Apr 05:00','12 Apr 21:00','15 Apr 14:00','16 Apr 06:00','16 Apr 22:00','17 Apr 14:00','18 Apr 06:00','18 Apr 22:00','19 Apr 14:00','22 Apr 07:00','22 Apr 23:00','23 Apr 15:00'][round(datum.value/16)]","labelAlign":"left","labelBaseline":"top","labelPadding":2,"labelFontSize":8.5,"labelFlush":false,"labelOverlap":false,"title":null}},
    "y":{"field":"s","type":"quantitative","scale":{"domain":[-0.002633,0.003107],"nice":false,"zero":false},
     "axis":{"orient":"right","values":[0.00287,0,-0.00243],"labelExpr":"datum.value == 0 ? '0.00' : format(datum.value, '.5f')","title":null,"labelPadding":0,"tickSize":2,"labelFontSize":8,"labelOverlap":false}}}},
  {"data":{"name":"mhdr"},"mark":{"type":"text","align":"left","baseline":"middle","fontSize":9,"color":"#000000"},
   "encoding":{"x":{"datum":0.9,"type":"quantitative","scale":{"domain":[-0.2,261.5],"nice":false,"zero":false},
     "axis":{"orient":"bottom","values":[0,16,32,48,64,80,96,112,128,144,160,176,192,208,224,240],"labelExpr":"['9 Apr 2013','10 Apr 05:00','10 Apr 21:00','11 Apr 13:00','12 Apr 05:00','12 Apr 21:00','15 Apr 14:00','16 Apr 06:00','16 Apr 22:00','17 Apr 14:00','18 Apr 06:00','18 Apr 22:00','19 Apr 14:00','22 Apr 07:00','22 Apr 23:00','23 Apr 15:00'][round(datum.value/16)]","labelAlign":"left","labelBaseline":"top","labelPadding":2,"labelFontSize":8.5,"labelFlush":false,"labelOverlap":false,"title":null}},
    "y":{"field":"y","type":"quantitative","scale":{"domain":[-0.002633,0.003107],"nice":false,"zero":false},
     "axis":{"orient":"right","values":[0.00287,0,-0.00243],"labelExpr":"datum.value == 0 ? '0.00' : format(datum.value, '.5f')","title":null,"labelPadding":0,"tickSize":2,"labelFontSize":8,"labelOverlap":false}},
    "text":{"field":"t"}}}
 ]
}
]
}
